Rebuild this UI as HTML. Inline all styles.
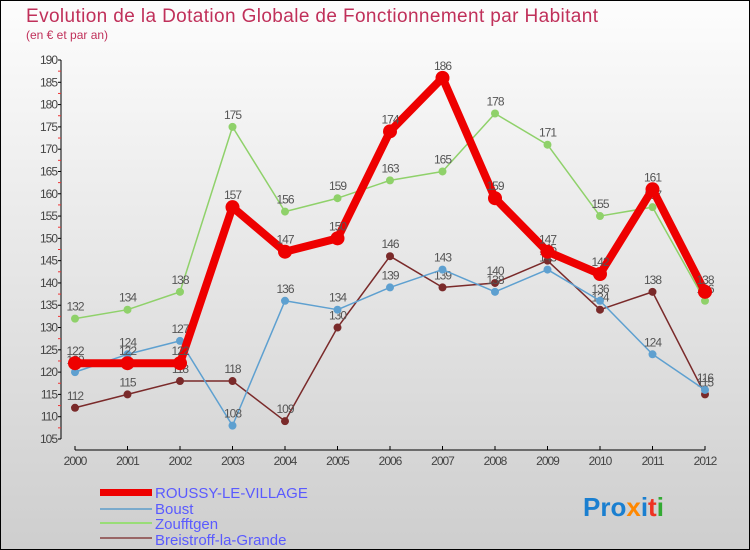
<!DOCTYPE html>
<html><head><meta charset="utf-8"><style>
body{margin:0;width:750px;height:550px;overflow:hidden}
svg{display:block;font-family:"Liberation Sans",sans-serif}
</style></head><body>
<svg id="c" width="750" height="550" xmlns="http://www.w3.org/2000/svg">
<defs><linearGradient id="bg" x1="0" y1="0" x2="0" y2="1"><stop offset="0" stop-color="#fdfdfd"/><stop offset="1" stop-color="#cecece"/></linearGradient></defs>
<rect x="0.5" y="0.5" width="749" height="549" fill="url(#bg)" stroke="#000"/>
<text x="26" y="22" font-size="19" fill="#c0305a" textLength="572">Evolution de la Dotation Globale de Fonctionnement par Habitant</text>
<text x="26" y="39" font-size="12" fill="#c0305a">(en € et par an)</text>
<g id="axes"></g><g id="series"></g>
<g>
<rect x="100" y="489" width="52" height="7" fill="#e00"/>
<text x="155" y="498" font-size="15" fill="#5a5aff">ROUSSY-LE-VILLAGE</text>
<rect x="100" y="508" width="52" height="2" fill="#7aaacc"/>
<text x="155" y="514" font-size="15" fill="#5a5aff">Boust</text>
<rect x="100" y="522" width="52" height="2" fill="#99dd77"/>
<text x="155" y="529" font-size="15" fill="#5a5aff">Zoufftgen</text>
<rect x="100" y="537" width="52" height="2" fill="#996666"/>
<text x="155" y="545" font-size="15" fill="#5a5aff">Breistroff-la-Grande</text>
</g>
<g font-size="26" font-weight="bold">
<text x="583" y="516"><tspan fill="#1a7fd0">Pro</tspan><tspan fill="#ff8800">x</tspan><tspan fill="#1a7fd0">i</tspan><tspan fill="#ee3322">t</tspan><tspan fill="#33aa33">i</tspan></text>
</g>
</svg>
<script>
const years=[2000,2001,2002,2003,2004,2005,2006,2007,2008,2009,2010,2011,2012];
const roussy=[122,122,122,157,147,150,174,186,159,147,142,161,138];
const boust=[120,124,127,108,136,134,139,143,138,143,136,124,116];
const zoufftgen=[132,134,138,175,156,159,163,165,178,171,155,157,136];
const breistroff=[112,115,118,118,109,130,146,139,140,145,134,138,115];
const yTicks=[105,110,115,120,125,130,135,140,145,150,155,160,165,170,175,180,185,190];
const NS="http://www.w3.org/2000/svg";
const X=i=>75+i*52.5, Y=v=>439-(v-105)*(379/85);
function mk(p,t,a){const e=document.createElementNS(NS,t);for(const k in a)e.setAttribute(k,a[k]);p.appendChild(e);return e;}
const ax=document.getElementById('axes');
const yl=mk(ax,'line',{x1:61,y1:Y(190),x2:61,y2:Y(105),stroke:'#000'});


const xl=mk(ax,'line',{x1:X(0),y1:450,x2:X(12),y2:450,stroke:'#000'});


yTicks.forEach(v=>{
 mk(ax,'line',{x1:58,x2:61,y1:Y(v),y2:Y(v),stroke:'#000'});
 const t=mk(ax,'text',{x:57,y:Y(v)+4,'font-size':12,'text-anchor':'end',fill:'#444','letter-spacing':'-1'});
 t.textContent=v;
 
 
 if(v<190)mk(ax,'line',{x1:58,x2:61,y1:Y(v+2.5),y2:Y(v+2.5),stroke:'#e33'});
});
years.forEach((y,i)=>{
 mk(ax,'line',{x1:X(i),x2:X(i),y1:446,y2:450,stroke:'#000'});
 const t=mk(ax,'text',{x:X(i),y:465,'font-size':12,'text-anchor':'middle',fill:'#444','letter-spacing':'-1'});
 t.textContent=y;
 
 
});
const sg=document.getElementById('series');
function draw(name,data,color,w,r){
 const g=mk(sg,'g',{});
 
 
 const pl=mk(g,'polyline',{points:data.map((v,i)=>X(i)+','+Y(v)).join(' '),fill:'none',stroke:color,'stroke-width':w,'stroke-linejoin':'round'});
 
 
 data.forEach((v,i)=>{
  const c=mk(g,'circle',{cx:X(i),cy:Y(v),r:r,fill:color});
  
  
  const t=mk(g,'text',{x:X(i),y:Y(v)-8,'font-size':12,'text-anchor':'middle',fill:'#555','letter-spacing':'-1'});
  t.textContent=v;
  
  
 });
}
draw('zoufftgen',zoufftgen,'#8fd16a',1.5,4);
draw('breistroff',breistroff,'#7a2a2a',1.5,4);
draw('boust',boust,'#5ea0d0',1.5,4);
draw('roussy',roussy,'#ee0000',8,7);
</script>
</body></html>
